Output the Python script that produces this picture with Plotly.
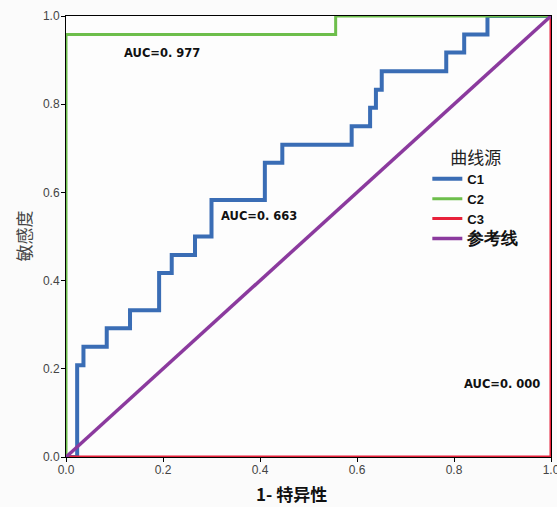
import plotly.graph_objects as go

# ROC step points (1 - specificity, sensitivity); drawn with horizontal-then-vertical steps
c1_x = [0.0, 0.023, 0.036, 0.084, 0.132, 0.192, 0.218, 0.266, 0.300, 0.410, 0.446,
        0.589, 0.627, 0.639, 0.651, 0.784, 0.821, 0.869, 1.0]
c1_y = [0.0, 0.208, 0.250, 0.292, 0.333, 0.417, 0.458, 0.500, 0.583, 0.667, 0.708,
        0.750, 0.792, 0.833, 0.875, 0.917, 0.958, 1.0, 1.0]
c2_x = [0.0, 0.0, 0.556, 1.0]
c2_y = [0.0, 0.958, 1.0, 1.0]
c3_x = [0.0, 1.0]
c3_y = [0.0, 1.0]
ref_x = [0.0, 1.0]
ref_y = [0.0, 1.0]

series_names = ["C1", "C2", "C3", "参考线"]
auc_labels = ["AUC=0. 663", "AUC=0. 977", "AUC=0. 000"]
auc_pos = [(0.398, 0.546), (0.198, 0.917), (0.899, 0.166)]
ticks = [0.0, 0.2, 0.4, 0.6, 0.8, 1.0]
tick_text = ["0.0", "0.2", "0.4", "0.6", "0.8", "1.0"]

colors = ["#3A6DB5", "#6DBE4B", "#E8213A", "#8B3A9E"]
cjk = "Noto Sans CJK SC"

legend_names = ["<b>C1</b>", "<b>C2</b>", "<b>C3</b>",
                "<b><span style='font-size:17px'>" + series_names[3] + "</span></b>"]

fig = go.Figure()
fig.add_trace(go.Scatter(x=c1_x, y=c1_y, mode="lines", name=legend_names[0],
                         line=dict(color=colors[0], width=4, shape="hv")))
fig.add_trace(go.Scatter(x=c2_x, y=c2_y, mode="lines", name=legend_names[1],
                         line=dict(color=colors[1], width=3, shape="hv")))
fig.add_trace(go.Scatter(x=c3_x, y=c3_y, mode="lines", name=legend_names[2],
                         line=dict(color=colors[2], width=3, shape="hv")))
fig.add_trace(go.Scatter(x=ref_x, y=ref_y, mode="lines", name=legend_names[3],
                         line=dict(color=colors[3], width=3.5)))

for txt, (ax, ay) in zip(auc_labels, auc_pos):
    fig.add_annotation(x=ax, y=ay, text="<b>" + txt + "</b>", showarrow=False, xref="x", yref="y",
                       font=dict(family="DejaVu Sans", size=11.5, color="#111"))

fig.add_annotation(text="<b>1- 特异性</b>", x=(291 - 66) / 485, xref="paper",
                   y=-(494 - 457.3) / 442, yref="paper", xanchor="center", yanchor="middle",
                   showarrow=False, font=dict(family=cjk, size=17, color="#111"))
fig.add_annotation(text="敏感度", textangle=-90, x=-(66 - 23) / 485, xref="paper",
                   y=0.5, yref="paper", xanchor="center", yanchor="middle",
                   showarrow=False, font=dict(family=cjk, size=17, color="#444"))

axis_common = dict(range=[0, 1], tickvals=ticks, ticktext=tick_text, showgrid=False,
                   zeroline=False, showline=True, linecolor="black", linewidth=1,
                   mirror=True, ticks="outside", ticklen=4, tickcolor="black",
                   ticklabeloverflow="allow", automargin=False,
                   tickfont=dict(family="Liberation Sans", size=12, color="#444"))

fig.update_layout(
    width=557, height=507,
    margin=dict(l=66, r=6, t=16, b=50, autoexpand=False),
    paper_bgcolor="#fbfbfb", plot_bgcolor="#fdfdfd",
    xaxis=dict(**axis_common, ticklabelstandoff=-2),
    yaxis=dict(**axis_common, ticklabelstandoff=-1),
    legend=dict(x=0.745, y=0.715, xanchor="left", yanchor="top",
                bgcolor="rgba(0,0,0,0)",
                title=dict(text="曲线源", side="top center",
                           font=dict(family=cjk, size=17, color="#222")),
                font=dict(family="Liberation Sans", size=13, color="#111"),
                tracegroupgap=0, itemwidth=30),
    showlegend=True,
)

fig.write_html("out.html", config={"displayModeBar": False},
               post_script="document.body.style.margin='0';document.body.style.padding='0';")
